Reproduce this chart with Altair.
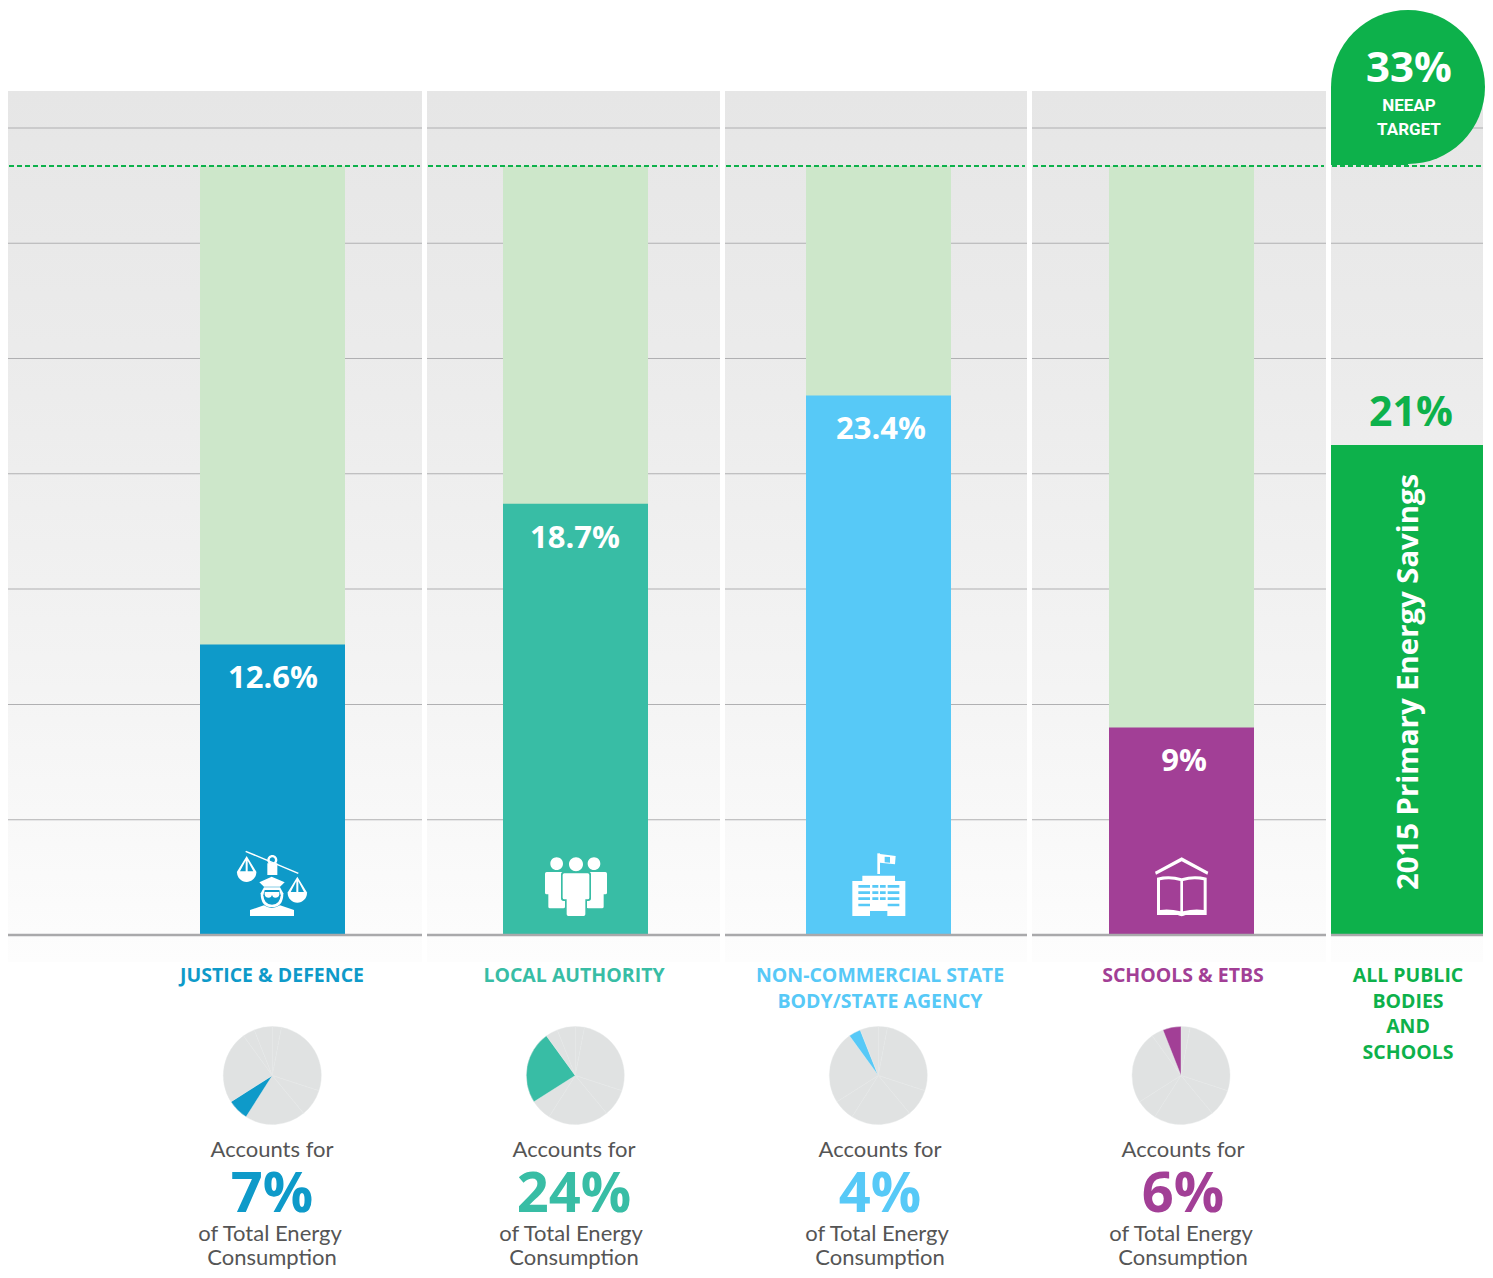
import math
import altair as alt
import pandas as pd

# ---- data ----
sectors = ["JUSTICE & DEFENCE", "LOCAL AUTHORITY", "NON-COMMERCIAL STATE|BODY/STATE AGENCY", "SCHOOLS & ETBS", "ALL PUBLIC|BODIES|AND|SCHOOLS"]
savings = [12.6, 18.7, 23.4, 9.0, 21.25]
saving_labels = ["12.6%", "18.7%", "23.4%", "9%", "21%"]
target_top = 33.35
consumption_labels = ["7%", "24%", "4%", "6%"]
pie_shares = [3, 27, 9, 20, 7, 24, 4, 6]
pie_highlight = [4, 5, 6, 7]
grid_values = [0, 5, 10, 15, 20, 25, 30, 35]
colors = ["#0e9ac9", "#38bda5", "#57c9f7", "#a23f96", "#0db14b"]

# ---- layout (page pixels) ----
PX = 23.06
TOP = 8
BASE = 935
HEIGHT = 1262
panel_left = [8, 427, 725, 1032, 1331]
panel_right = [422, 720, 1027, 1326, 1485]
bg_right = [422, 720, 1027, 1326, 1483]
bar_left = [200, 503, 806, 1109, 1331]
bar_right = [345, 648, 951, 1254, 1483]
label_cx = [272, 574, 880, 1183, 1408]
pie_cx = [272.3, 575.3, 878.3, 1181]
foot_cx = [270, 571, 877, 1181]
BG_TOP = (BASE - 91) / PX
BG_BOT = (BASE - 962) / PX
FONT = "Open Sans"
BODY_FONT = "Lato"
dummy = pd.DataFrame({"a": [0]})
yscale = alt.Scale(domain=[(BASE - TOP - HEIGHT) / PX, (BASE - TOP) / PX], nice=False, zero=False)
bg_gradient = alt.Gradient(
    gradient="linear", x1=0, x2=0, y1=0, y2=1,
    stops=[
        alt.GradientStop(color="#e6e6e6", offset=0),
        alt.GradientStop(color="#ececec", offset=0.35),
        alt.GradientStop(color="#f3f3f3", offset=0.65),
        alt.GradientStop(color="#fafafa", offset=0.9),
        alt.GradientStop(color="#fdfdfd", offset=1),
    ],
)


def circ(cx, cy, r, hole=False):
    s = 0 if hole else 1
    return f"M{cx-r} {cy}A{r} {r} 0 1 {s} {cx+r} {cy}A{r} {r} 0 1 {s} {cx-r} {cy}Z"


def rrect(x0, y0, x1, y1, r=5):
    return (f"M{x0+r} {y0}H{x1-r}Q{x1} {y0} {x1} {y0+r}V{y1-r}Q{x1} {y1} {x1-r} {y1}"
            f"H{x0+r}Q{x0} {y1} {x0} {y1-r}V{y0+r}Q{x0} {y0} {x0+r} {y0}Z")


def pan(ax, ay):
    return (f"M{ax} {ay-2}L{ax-30} {ay+47}H{ax+30}Z"
            f"M{ax-3} {ay+12}V{ay+44}H{ax-20}Z"
            f"M{ax+3} {ay+12}L{ax+20} {ay+44}H{ax+3}Z"
            f"M{ax-29} {ay+47}A29 29 0 0 0 {ax+29} {ay+47}Z")


W, C = "white", "bar"
icon_origin = [(190, 830), (190, 830), (800, 830), (800, 830)]
icons = [
    [
        (W, "M168 62L326 128L324 132L166 66Z"),
        (W, circ(247, 90, 15) + circ(247, 90, 8, True) + "M232 100H262V135H232Z"),
        (W, pan(170, 80)),
        (W, pan(322, 142)),
        (W, "M208 157L245 140L284 157L270 170H222Z"),
        (W, "M212 190Q212 232 246 232Q280 232 280 190L270 172H222Z"),
        (C, "M220 196Q222 224 246 224Q270 224 272 196L268 180H224Z"),
        (W, "M224 186H268V194Q266 203 256 203Q248 203 246 194Q244 203 236 203Q226 203 224 194Z"),
        (W, "M180 240L222 226Q245 242 270 226L312 240V258H180Z"),
    ],
    [
        (W, circ(1100, 101, 19) + circ(1158, 103, 21) + circ(1212, 101, 19)),
        (W, rrect(1065, 126, 1125, 193) + rrect(1075, 185, 1125, 235)),
        (W, rrect(1190, 126, 1251, 193) + rrect(1190, 185, 1241, 235)),
        (C, rrect(1113, 125, 1203, 213, 8) + rrect(1125, 200, 1191, 263, 8)),
        (W, rrect(1118, 130, 1198, 208) + rrect(1130, 200, 1186, 258)),
    ],
    [
        (W, "M232 70H240V132H232Z"),
        (W, "M240 72L287 78L285 103L240 98Z"),
        (C, "M254 80L270 81V98L254 97Z"),
        (W, "M187 137H285V153H316V258H262V243H210V258H157V153H187Z"),
        (C, "M175 165H210V173H175ZM217 165H235V173H217ZM240 165H257V173H240ZM263 165H298V173H263Z"),
        (C, "M175 184H210V192H175ZM217 184H235V192H217ZM240 184H257V192H240ZM263 184H298V192H263Z"),
        (C, "M175 202H210V210H175ZM217 202H235V210H217ZM240 202H257V210H240ZM263 202H298V210H263Z"),
        (C, "M175 221H210V229H175ZM263 221H298V229H263Z"),
    ],
    [
        (W, "M1065 125L1145 82L1225 125L1222 134L1145 94L1068 134Z"),
        (W, "M1071 143Q1110 134 1145 145Q1180 134 1220 143V255H1157Q1145 262 1133 255H1071Z"),
        (C, "M1080 151Q1110 144 1141 153V244Q1110 236 1080 240Z"),
        (C, "M1149 153Q1180 144 1211 151V240Q1180 236 1149 244Z"),
    ],
]


def txt(s, page_x, page_y, left, size, color, weight="normal", font=FONT, **kw):
    return alt.Chart(dummy).mark_text(
        text=s, fontSize=size, fontWeight=weight, font=font, color=color,
        align="center", baseline="alphabetic", **kw
    ).encode(x=alt.value(page_x - left), y=alt.value(page_y - TOP))


def panel(i):
    left = panel_left[i]
    w = panel_right[i] - left
    bgw = bg_right[i] - left
    col = colors[i]
    bx0, bx1 = bar_left[i] - left, bar_right[i] - left
    layers = []
    layers.append(alt.Chart(pd.DataFrame({"t": [BG_TOP], "b": [BG_BOT]})).mark_rect(color=bg_gradient).encode(
        x=alt.value(0), x2=alt.value(bgw),
        y=alt.Y("t:Q", scale=yscale, axis=None), y2="b:Q"))
    grid = pd.DataFrame({"v": [g for g in grid_values if g > 0]})
    layers.append(alt.Chart(grid).mark_rect(color="#b0b0b2", height=1).encode(
        x=alt.value(0), x2=alt.value(bgw), y=alt.Y("v:Q", scale=yscale, axis=None)))
    if i < 4:
        layers.append(alt.Chart(pd.DataFrame({"t": [target_top], "b": [0]})).mark_rect(color="#cde7ca").encode(
            x=alt.value(bx0), x2=alt.value(bx1),
            y=alt.Y("t:Q", scale=yscale, axis=None), y2="b:Q"))
    layers.append(alt.Chart(pd.DataFrame({"t": [savings[i]], "b": [0]})).mark_rect(color=col).encode(
        x=alt.value(bx0), x2=alt.value(bx1),
        y=alt.Y("t:Q", scale=yscale, axis=None), y2="b:Q"))
    layers.append(alt.Chart(pd.DataFrame({"v": [0]})).mark_rect(color="#a9a9ab", height=2.5).encode(
        x=alt.value(0), x2=alt.value(bgw), y=alt.Y("v:Q", scale=yscale, axis=None)))
    if i == 4:
        layers.append(alt.Chart(dummy).mark_circle(size=154 ** 2, color=col, opacity=1).encode(
            x=alt.value(1408 - left), y=alt.value(87 - TOP)))
        layers.append(alt.Chart(dummy).mark_rect(color=col).encode(
            x=alt.value(0), x2=alt.value(1408 - left), y=alt.value(87 - TOP), y2=alt.value(165 - TOP)))
    layers.append(alt.Chart(pd.DataFrame({"v": [target_top]})).mark_rule(
        color="#0db14b", strokeWidth=2, strokeDash=[5, 3]).encode(
        x=alt.value(1), x2=alt.value(bgw - (2 if i < 4 else 1)), y=alt.Y("v:Q", scale=yscale, axis=None)))
    # value label attached to the bar top
    dy_val = -19 if i == 4 else 44
    layers.append(alt.Chart(pd.DataFrame({"v": [savings[i]]})).mark_text(
        text=saving_labels[i], fontSize=41 if i == 4 else 31, fontWeight="bold", font=FONT,
        color=col if i == 4 else "white", align="center", baseline="alphabetic", dy=dy_val).encode(
        x=alt.value((1411 if i == 4 else label_cx[i] + 1) - left), y=alt.Y("v:Q", scale=yscale, axis=None)))
    # sector label
    for k, line in enumerate(sectors[i].split("|")):
        layers.append(txt(line, label_cx[i], [982, 1008, 1033, 1059][k], left, 19.5, col, "bold"))
    if i < 4:
        ox, oy = icon_origin[i]
        for kind, d in icons[i]:
            layers.append(alt.Chart(dummy).mark_point(
                shape=d, size=4 / 9, filled=True, opacity=1, color="white" if kind == W else col).encode(
                x=alt.value(ox - left), y=alt.value(oy - TOP)))
        # pie
        rows, cum = [], 0
        for k, s in enumerate(pie_shares):
            rows.append({"start": cum, "end": cum + s, "fill": col if k == pie_highlight[i] else "#e0e2e2"})
            cum += s
        layers.append(alt.Chart(pd.DataFrame(rows)).mark_arc(radius=49, stroke="#e7e8e8", strokeWidth=0.4).encode(
            theta=alt.Theta("start:Q", scale=alt.Scale(domain=[0, 100], range=[0, 2 * math.pi]), stack=None),
            theta2="end:Q",
            color=alt.Color("fill:N", scale=None),
            x=alt.value(pie_cx[i] - left), y=alt.value(1075.5 - TOP)))
        layers.append(txt("Accounts for", label_cx[i], 1157, left, 22, "#555555", font=BODY_FONT))
        layers.append(txt(consumption_labels[i], label_cx[i], 1212, left, 56, col, "bold"))
        layers.append(txt("of Total Energy", foot_cx[i], 1241, left, 22, "#555555", font=BODY_FONT))
        layers.append(txt("Consumption", label_cx[i], 1265, left, 22, "#555555", font=BODY_FONT))
    else:
        layers.append(txt("33%", 1409, 82, left, 42, "white", "bold"))
        layers.append(txt("NEEAP", 1409, 111, left, 17, "white", "bold", font="Roboto"))
        layers.append(txt("TARGET", 1409, 135, left, 17, "white", "bold", font="Roboto"))
        layers.append(alt.Chart(dummy).mark_text(
            text="2015 Primary Energy Savings", fontSize=29.3, fontWeight="bold", font=FONT, color="white",
            angle=270, align="center", baseline="alphabetic").encode(
            x=alt.value(1418 - left), y=alt.value(682 - TOP)))
    return alt.layer(*layers).properties(width=w, height=HEIGHT)


chart = alt.hconcat(*[panel(i) for i in range(5)], spacing=5, bounds="flush").properties(
    padding=0, background="white"
).configure_view(stroke=None).resolve_scale(theta="independent", color="independent")

chart.save("out.html", embed_options={"renderer": "svg", "actions": False})
